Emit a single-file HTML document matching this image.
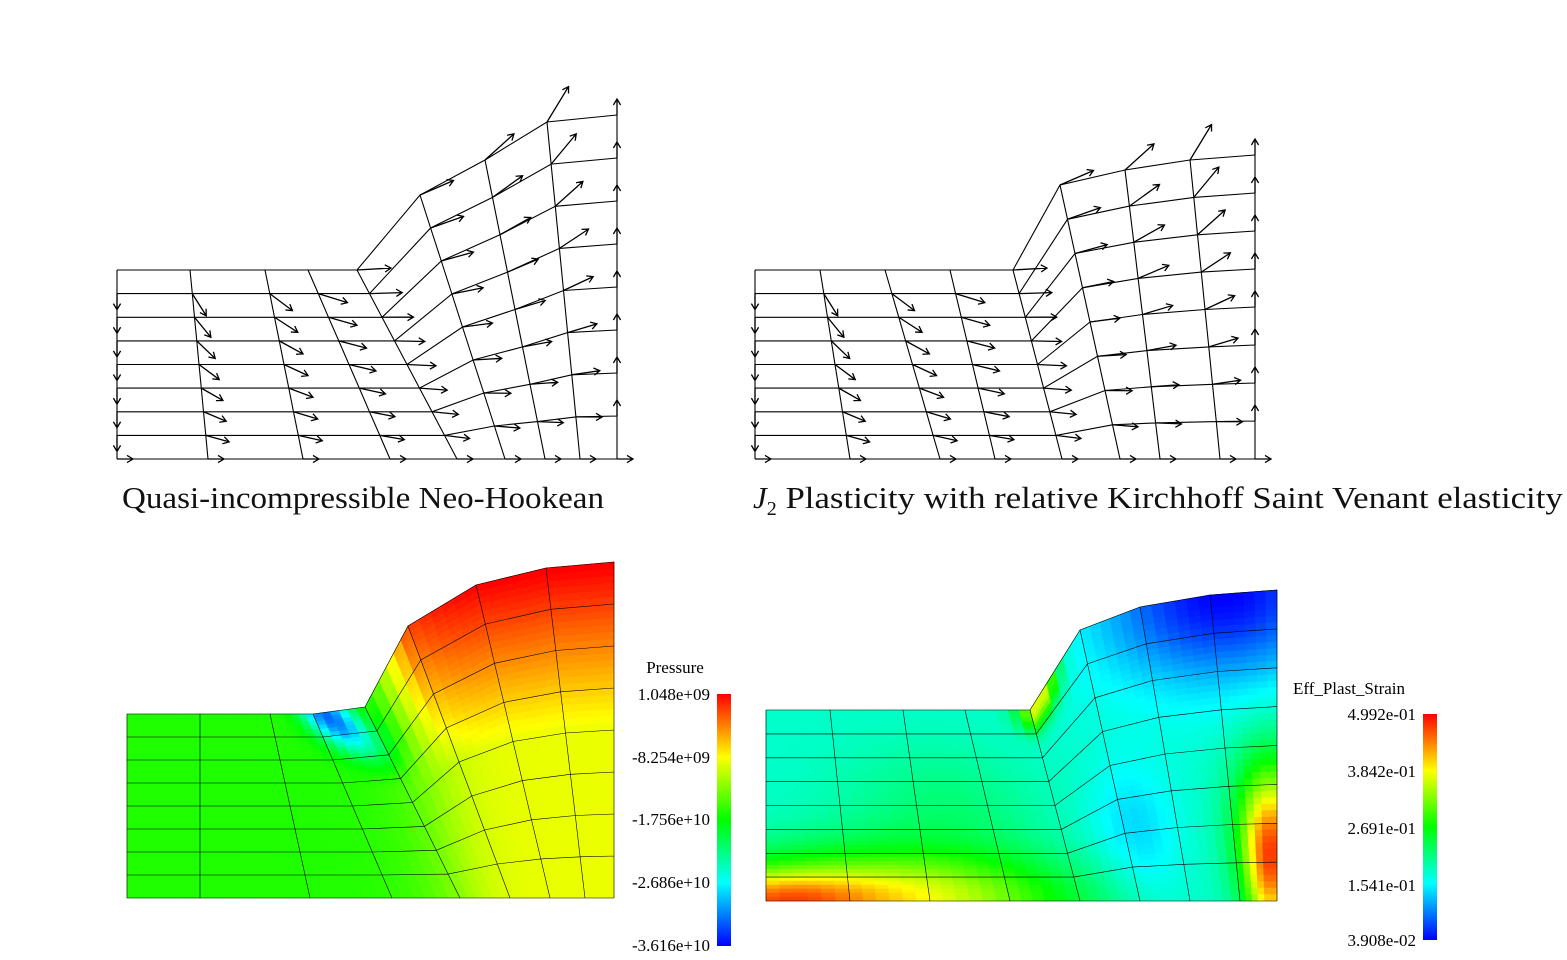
<!DOCTYPE html>
<html><head><meta charset="utf-8"><style>
html,body{margin:0;padding:0;background:#fff}
svg{display:block}
.cap{font-family:"Liberation Serif",serif;font-size:31px;fill:#111}
.lab{font-family:"Liberation Serif",serif;font-size:17px;fill:#000}
</style></head><body>
<svg id="s" width="1567" height="960" viewBox="0 0 1567 960" xmlns="http://www.w3.org/2000/svg">
<defs>
<linearGradient id="jet" x1="0" y1="1" x2="0" y2="0">
<stop offset="0" stop-color="#0000ff"/><stop offset="0.25" stop-color="#00ffff"/>
<stop offset="0.5" stop-color="#00ff00"/><stop offset="0.75" stop-color="#ffff00"/>
<stop offset="1" stop-color="#ff0000"/></linearGradient>
</defs>
<g id="g"></g>
<text class="cap" x="122" y="508" textLength="482" lengthAdjust="spacingAndGlyphs">Quasi-incompressible Neo-Hookean</text>
<text class="cap" x="753" y="508"><tspan font-style="italic">J</tspan><tspan font-size="20" dy="7">2</tspan><tspan dy="-7" textLength="786" lengthAdjust="spacingAndGlyphs"> Plasticity with relative Kirchhoff Saint Venant elasticity</tspan></text>
<rect x="717" y="694" width="14" height="252" fill="url(#jet)"/>
<text class="lab" x="675" y="673" text-anchor="middle">Pressure</text>
<text class="lab" x="710" y="700" text-anchor="end">1.048e+09</text>
<text class="lab" x="710" y="763" text-anchor="end">-8.254e+09</text>
<text class="lab" x="710" y="825" text-anchor="end">-1.756e+10</text>
<text class="lab" x="710" y="888" text-anchor="end">-2.686e+10</text>
<text class="lab" x="710" y="951" text-anchor="end">-3.616e+10</text>
<rect x="1423" y="714" width="14" height="226" fill="url(#jet)"/>
<text class="lab" x="1349" y="694" text-anchor="middle">Eff_Plast_Strain</text>
<text class="lab" x="1416" y="720" text-anchor="end">4.992e-01</text>
<text class="lab" x="1416" y="777" text-anchor="end">3.842e-01</text>
<text class="lab" x="1416" y="834" text-anchor="end">2.691e-01</text>
<text class="lab" x="1416" y="891" text-anchor="end">1.541e-01</text>
<text class="lab" x="1416" y="946" text-anchor="end">3.908e-02</text>
</svg>
<script>
var g=document.getElementById('g'),NS='http://www.w3.org/2000/svg';
function el(t,a){var e=document.createElementNS(NS,t);for(var k in a)e.setAttribute(k,a[k]);g.appendChild(e);return e;}
function mesh(top,bot){var N=[];for(var j=0;j<=8;j++){N[j]=[];for(var i=0;i<=8;i++){var v=j/8;N[j][i]=[top[i][0]*(1-v)+bot[i][0]*v,top[i][1]*(1-v)+bot[i][1]*v];}}return N;}
function lines(N,w){var d='';for(var j=0;j<=8;j++){d+='M'+N[j].map(p=>p[0].toFixed(1)+','+p[1].toFixed(1)).join('L');}
for(var i=0;i<=8;i++){d+='M';for(var j=0;j<=8;j++)d+=(j?'L':'')+N[j][i][0].toFixed(1)+','+N[j][i][1].toFixed(1);}
el('path',{d:d,fill:'none',stroke:'#000','stroke-width':w});}
function arrows(N){var d='';for(var j=0;j<=8;j++)for(var i=0;i<=8;i++){
 if(j==0&&i<4)continue;var u=i/8,v=j/8;
 var ang;
 if(j==8)ang=0;else if(i==0)ang=Math.PI/2;else if(i==8)ang=-Math.PI/2;
 else ang=Math.pow(1-u,1.5)*(Math.PI/2)*(1-v)*0.9-u*(Math.PI/2)*(1-v)*0.9+0.15;
 var L=(i==0||j==8||i==8)?16:24+20*u*(1-v);
 var x=N[j][i][0],y=N[j][i][1],x2=x+L*Math.cos(ang),y2=y+L*Math.sin(ang);
 var a1=ang+2.6,a2=ang-2.6;
 d+='M'+x+','+y+'L'+x2+','+y2+'M'+(x2+7*Math.cos(a1))+','+(y2+7*Math.sin(a1))+'L'+x2+','+y2+'L'+(x2+7*Math.cos(a2))+','+(y2+7*Math.sin(a2));}
el('path',{d:d,fill:'none',stroke:'#000','stroke-width':1.3});}
function jet(t){t=Math.max(0,Math.min(1,t));var r,gg,b;
 if(t<.25){r=0;gg=t*4;b=1}else if(t<.5){r=0;gg=1;b=1-(t-.25)*4}else if(t<.75){r=(t-.5)*4;gg=1;b=0}else{r=1;gg=1-(t-.75)*4;b=0}
 return 'rgb('+Math.round(r*255)+','+Math.round(gg*255)+','+Math.round(b*255)+')';}
function fill(top,bot,f){var S=48;for(var j=0;j<S;j++)for(var i=0;i<S;i++){
 function P(a,b){var u=a/S*8,k=Math.min(7,Math.floor(u)),fr=u-k,v=b/S;
  var tx=top[k][0]*(1-fr)+top[k+1][0]*fr,ty=top[k][1]*(1-fr)+top[k+1][1]*fr,bx=bot[k][0]*(1-fr)+bot[k+1][0]*fr,by=bot[k][1]*(1-fr)+bot[k+1][1]*fr;
  return [tx*(1-v)+bx*v,ty*(1-v)+by*v];}
 var p=[P(i,j),P(i+1,j),P(i+1,j+1),P(i,j+1)];var c=jet(f((i+.5)/S,(j+.5)/S));
 el('polygon',{points:p.map(q=>q.join(',')).join(' '),fill:c,stroke:c,'stroke-width':0.6});}}
function G(u,v,a,b,su,sv){return Math.exp(-((u-a)*(u-a)/su+(v-b)*(v-b)/sv));}
var T1=[[117,270],[190,270],[265,270],[308,270],[357,270],[420,195],[485,160],[547,122],[617,115]];
var B1=[[117,459],[208,459],[303,459],[390,459],[457,459],[505,459],[545,459],[580,459],[617,459]];
var N1=mesh(T1,B1);lines(N1,1.1);arrows(N1);
var T2=[[755,270],[820,270],[885,270],[950,270],[1013,270],[1060,185],[1125,170],[1190,160],[1255,155]];
var B2=[[755,459],[850,459],[940,459],[995,459],[1062,459],[1120,459],[1160,459],[1220,459],[1255,459]];
var N2=mesh(T2,B2);lines(N2,1.1);arrows(N2);
var T3=[[127,714],[200,714],[270,714],[313,714],[365,707],[408,626],[476,585],[546,568],[614,562]];
var B3=[[127,898],[200,898],[310,898],[392,898],[460,898],[510,898],[550,898],[585,898],[614,898]];
fill(T3,B3,function(u,v){var s=0.53+0.2/(1+Math.exp(-(u-0.6+0.1*v)*20));
 s+=0.28*Math.max(0,1-v/0.5)*(u>0.62?1:Math.max(0,(u-0.52)*10));
 s-=0.5*G(u,v,0.4+0.25*v,0.1,0.004,0.06)*Math.max(0,1-v*2.2);return s;});
lines(mesh(T3,B3),0.6);
var T4=[[766,710],[830,710],[903,710],[965,710],[1030,710],[1080,630],[1140,607],[1210,595],[1277,590]];
var B4=[[766,901],[850,901],[930,901],[1010,901],[1080,901],[1140,901],[1190,901],[1240,901],[1277,901]];
fill(T4,B4,function(u,v){var s=0.3+0.08*G(u,v,0.3,0.5,0.03,0.1);
 s-=0.3*G(u,v,0.9,0,0.05,0.08);
 s+=0.45*G(u,v,0.18,1.0,0.09,0.07);
 s+=0.65*G(u,v,0.98,0.85,0.008,0.08);
 s-=0.1*G(u,v,0.65,0.75,0.01,0.06);
 s+=0.45*G(u,v,0.52,0.02,0.002,0.01);
 s+=0.3*G(u,v,0.0,1.0,0.02,0.02);return s;});
lines(mesh(T4,B4),0.6);
</script>
</body></html>
